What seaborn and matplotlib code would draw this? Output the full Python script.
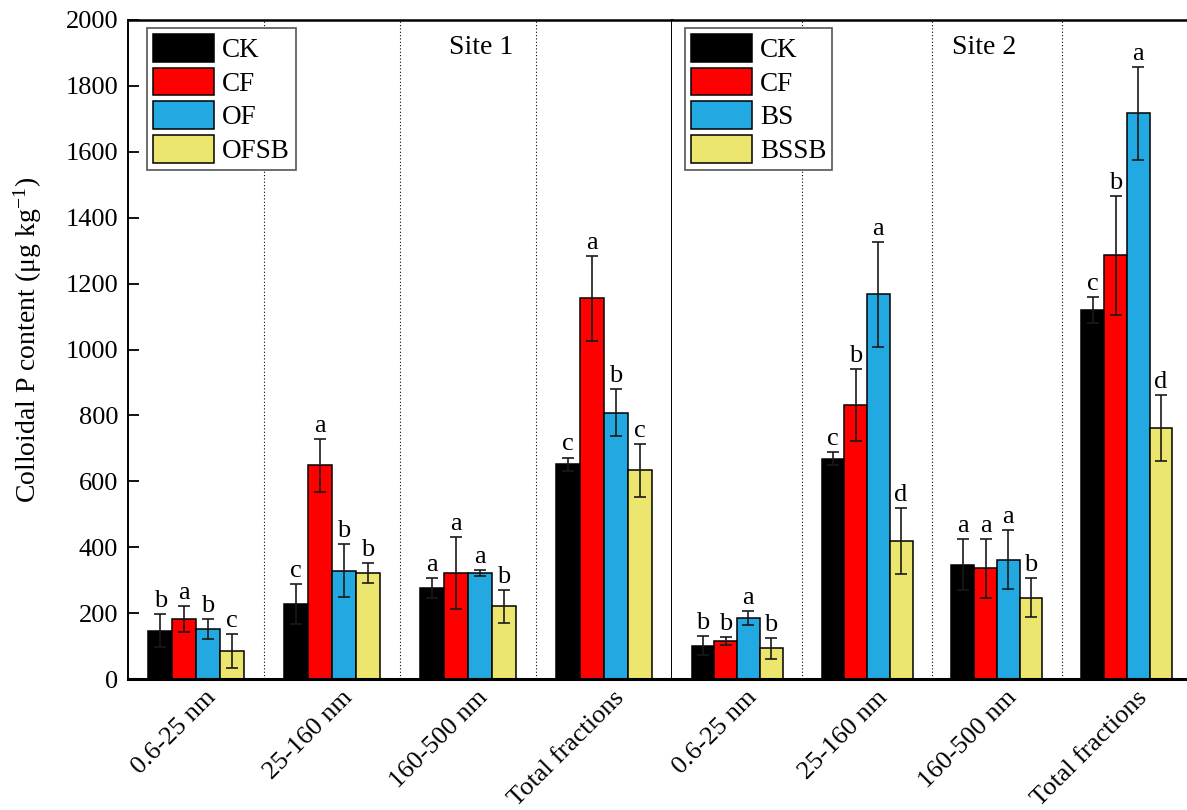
import numpy as np
import pandas as pd
import matplotlib
matplotlib.use("Agg")
import matplotlib.pyplot as plt
import matplotlib.transforms as mtransforms
from matplotlib.patches import Patch
import seaborn as sns

plt.rcParams['font.family'] = ['Liberation Serif', 'DejaVu Serif']
plt.rcParams['mathtext.fontset'] = 'stix'

fractions = ["0.6-25 nm", "25-160 nm", "160-500 nm", "Total fractions"]

site1_treatments = ["CK", "CF", "OF", "OFSB"]
site1_values = {
    "CK":   [147, 227, 276, 652],
    "CF":   [182, 648, 322, 1155],
    "OF":   [152, 329, 322, 808],
    "OFSB": [85, 322, 221, 633],
}
site1_errors = {
    "CK":   [50, 60, 30, 20],
    "CF":   [40, 80, 110, 130],
    "OF":   [30, 81, 10, 71],
    "OFSB": [51, 30, 50, 81],
}
site1_letters = {
    "CK":   ["b", "c", "a", "c"],
    "CF":   ["a", "a", "a", "a"],
    "OF":   ["b", "b", "a", "b"],
    "OFSB": ["c", "b", "b", "c"],
}

site2_treatments = ["CK", "CF", "BS", "BSSB"]
site2_values = {
    "CK":   [101, 669, 347, 1120],
    "CF":   [115, 832, 336, 1286],
    "BS":   [185, 1167, 362, 1717],
    "BSSB": [93, 418, 247, 763],
}
site2_errors = {
    "CK":   [28, 20, 78, 40],
    "CF":   [11, 110, 89, 180],
    "BS":   [21, 160, 90, 141],
    "BSSB": [31, 100, 60, 100],
}
site2_letters = {
    "CK":   ["b", "c", "a", "c"],
    "CF":   ["b", "b", "a", "b"],
    "BS":   ["a", "a", "a", "a"],
    "BSSB": ["b", "d", "b", "d"],
}

colors = ["#000000", "#FF0000", "#23A9E1", "#ECE66E"]
site_titles = ["Site 1", "Site 2"]

W, H = 1187, 810
fig = plt.figure(figsize=(W / 100, H / 100), dpi=100)
ax_top, ax_bot = 20, 679
ax1 = fig.add_axes([128 / W, 1 - ax_bot / H, 544 / W, (ax_bot - ax_top) / H])
ax2 = fig.add_axes([672 / W, 1 - ax_bot / H, 520 / W, (ax_bot - ax_top) / H], sharey=ax1)

FS = 19

def draw_site(ax, treatments, values, errors, letters, title, is_left):
    rows = []
    for t in treatments:
        for f, v in zip(fractions, values[t]):
            rows.append({"fraction": f, "treatment": t, "value": v})
    df = pd.DataFrame(rows)
    sns.barplot(data=df, x="fraction", y="value", hue="treatment",
                order=fractions, hue_order=treatments, palette=colors,
                width=0.7, errorbar=None, edgecolor="black", linewidth=1.1,
                saturation=1, legend=False, ax=ax, zorder=2)
    for cont, t in zip(ax.containers, treatments):
        for p, e, lab in zip(cont.patches, errors[t], letters[t]):
            xc = p.get_x() + p.get_width() / 2
            h = p.get_height()
            ax.errorbar(xc, h, yerr=e, fmt="none", ecolor="#1a1a1a",
                        elinewidth=1.2, capsize=4.5, capthick=1.2, zorder=3)
            ax.annotate(lab, (xc, h + e), xytext=(0, 1.5),
                        textcoords="offset points", ha="center", va="bottom",
                        fontsize=FS, zorder=4)
    for xv in [0.5, 1.5, 2.5]:
        ax.axvline(xv, color="black", linestyle=(0, (1, 2)), lw=0.8, zorder=1)
    ax.set_xlim(-0.5, 3.5)
    ax.set_ylim(0, 2000)
    ax.set_xlabel("")
    ax.set_ylabel("")
    ax.set_xticks(range(4))
    ax.set_xticklabels(fractions, rotation=45, ha="right",
                       rotation_mode="anchor", fontsize=FS)
    ax.tick_params(axis="x", length=0, pad=7)
    shift = mtransforms.ScaledTranslation(9 / 100, 2 / 100, fig.dpi_scale_trans)
    for lbl in ax.get_xticklabels():
        lbl.set_transform(lbl.get_transform() + shift)
    ax.text(0.65 if is_left else 0.6, 0.959, title, transform=ax.transAxes,
            ha="center", va="center", fontsize=20)
    handles = [Patch(facecolor=c, edgecolor="black", linewidth=1.1) for c in colors]
    leg = ax.legend(handles, treatments, loc="upper left",
                    bbox_to_anchor=((19 / 544) if is_left else (13 / 520), 1 - 8 / 659),
                    borderaxespad=0, fontsize=19.5, frameon=True, fancybox=False,
                    edgecolor="#555555", framealpha=1, handlelength=2.25,
                    handleheight=1.2, labelspacing=0.17, handletextpad=0.3,
                    borderpad=0.22)
    leg.get_frame().set_linewidth(1.2)
    leg.set_zorder(5)
    for s in ax.spines.values():
        s.set_color("black")
    ax.spines["bottom"].set_linewidth(2.2)
    ax.spines["top"].set_linewidth(1.8)
    ax.spines["left"].set_linewidth(1.4)
    ax.spines["right"].set_linewidth(1.4)

draw_site(ax1, site1_treatments, site1_values, site1_errors, site1_letters, site_titles[0], True)
draw_site(ax2, site2_treatments, site2_values, site2_errors, site2_letters, site_titles[1], False)

ax1.set_yticks(np.arange(0, 2001, 200))
ax1.tick_params(axis="y", direction="in", length=8, width=1.3, pad=7, labelsize=FS)
ax1.set_ylabel("Colloidal P content (μg kg$^{\\mathregular{-1}}$)", fontsize=20)
ax1.yaxis.set_label_coords(-0.155, 0.515)
ax2.spines["left"].set_visible(False)
ax2.tick_params(axis="y", left=False, labelleft=False)

fig.savefig("out.png", dpi=100)
